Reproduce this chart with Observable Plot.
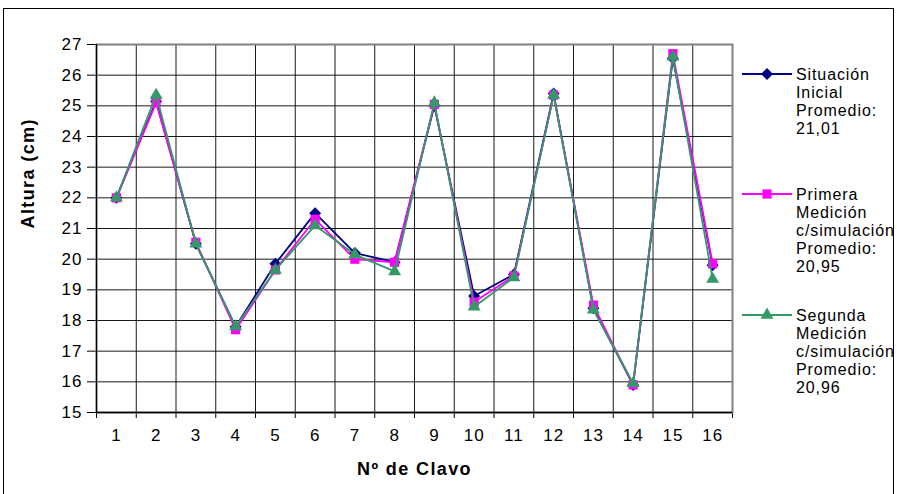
<!DOCTYPE html>
<html><head><meta charset="utf-8">
<script src="https://cdn.jsdelivr.net/npm/d3@7"></script>
<script src="https://cdn.jsdelivr.net/npm/@observablehq/plot@0.6"></script>
<style>
html,body{margin:0;padding:0;background:#fff;}
#wrap{position:relative;width:897px;height:494px;overflow:hidden;background:#fff;}
#wrap svg{position:absolute;left:0;top:0;}
#border{position:absolute;left:3px;top:8px;width:891px;height:500px;border:1px solid #000;box-sizing:border-box;}
</style></head><body><div id="wrap"><div id="border"></div></div>
<script>
const clavos = [1,2,3,4,5,6,7,8,9,10,11,12,13,14,15,16];
const situacionInicial = [22.0, 25.15, 20.5, 17.8, 19.85, 21.5, 20.2, 19.9, 25.0, 18.8, 19.5, 25.4, 18.4, 15.9, 26.55, 19.8];
const primeraMedicion  = [22.0, 25.1, 20.55, 17.7, 19.65, 21.3, 20.0, 19.9, 25.05, 18.6, 19.45, 25.35, 18.5, 15.9, 26.7, 19.85];
const segundaMedicion  = [22.0, 25.35, 20.5, 17.8, 19.65, 21.1, 20.15, 19.6, 25.1, 18.45, 19.4, 25.35, 18.35, 15.95, 26.6, 19.35];
const yTicks = [15,16,17,18,19,20,21,22,23,24,25,26,27];
const xBounds = [0.5,1.5,2.5,3.5,4.5,5.5,6.5,7.5,8.5,9.5,10.5,11.5,12.5,13.5,14.5,15.5,16.5];
const legendLabels = [
  ["Situación", "Inicial", "Promedio:", "21,01"],
  ["Primera", "Medición", "c/simulación", "Promedio:", "20,95"],
  ["Segunda", "Medición", "c/simulación", "Promedio:", "20,96"]
];
const yTitle = "Altura (cm)";
const xTitle = "Nº de Clavo";

const series = [
  {values: situacionInicial, color: "#000080", symbol: "diamond2", r: 5.4},
  {values: primeraMedicion, color: "#FF00FF", symbol: "square", r: 5.2},
  {values: segundaMedicion, color: "#339966", symbol: "triangle", r: 4.8}
];
const font = "'Liberation Sans', Arial, sans-serif";

const marks = [
  Plot.ruleY(yTicks, {y: d => d, stroke: "#000", strokeWidth: 1, strokeOpacity: 0.9}),
  Plot.ruleX(xBounds, {x: d => d, stroke: "#000", strokeWidth: 1, strokeOpacity: 0.9}),
  Plot.frame({stroke: "#808080", strokeWidth: 2}),
  Plot.ruleX([xBounds[0]], {x: d => d, stroke: "#000", strokeWidth: 1.2}),
  Plot.ruleY([yTicks[0]], {y: d => d, stroke: "#000", strokeWidth: 1.5}),
  Plot.text(clavos, {x: d => d, frameAnchor: "bottom", dy: 28, fontSize: 17, fill: "#000"}),
  Plot.text([xTitle], {frameAnchor: "bottom", dy: 62, fontSize: 18, fontWeight: "bold", fill: "#000"}),
  Plot.text([yTitle], {frameAnchor: "left", dx: -68, rotate: -90, fontSize: 18, fontWeight: "bold", fill: "#000"})
];
for (const s of series) {
  const d = clavos.map((c, i) => ({clavo: c, altura: s.values[i]}));
  marks.push(Plot.line(d, {x: "clavo", y: "altura", stroke: s.color, strokeWidth: 1.8}));
  marks.push(Plot.dot(d, {x: "clavo", y: "altura", fill: s.color, stroke: "none", symbol: s.symbol, r: s.r}));
}

const plot = Plot.plot({
  width: 897, height: 494,
  marginLeft: 96, marginRight: 165, marginTop: 44, marginBottom: 82,
  style: {fontFamily: font, fontSize: "17px", background: "transparent", color: "#000", overflow: "visible", letterSpacing: "1px"},
  x: {type: "linear", domain: [0.5, 16.5], ticks: xBounds, tickSize: 6, tickFormat: () => "", label: null},
  y: {domain: [15, 27], ticks: yTicks, tickSize: 9, tickPadding: 5, label: null, tickFormat: d => String(d)},
  marks
});
document.getElementById("wrap").appendChild(plot);

const svg = d3.select(plot);
svg.selectAll("g[aria-label='y-axis'] text, g[aria-label='y-axis tick label'] text").attr("font-size", 17);
svg.selectAll("text").filter(function() { const t = this.textContent; return t === xTitle || t === yTitle; })
  .attr("letter-spacing", "1.4px");

// legend
const lg = svg.append("g").attr("font-family", font).attr("font-size", 16).attr("text-anchor", "start");
const itemY = [74, 194, 315];
const symMap = {diamond2: d3.symbolDiamond2, square: d3.symbolSquare, triangle: d3.symbolTriangle};
series.forEach((s, k) => {
  const y0 = itemY[k];
  lg.append("line").attr("x1", 742).attr("x2", 792).attr("y1", y0).attr("y2", y0)
    .attr("stroke", s.color).attr("stroke-width", 2);
  lg.append("path").attr("transform", `translate(767,${y0})`)
    .attr("d", d3.symbol(symMap[s.symbol], Math.PI * s.r * s.r)()).attr("fill", s.color);
  legendLabels[k].forEach((t, j) => {
    lg.append("text").attr("x", 796).attr("y", y0 + j * 18 + 5.6)
      .attr("text-anchor", "start").attr("letter-spacing", 0.9).attr("fill", "#000").text(t);
  });
});
</script>
</body></html>
